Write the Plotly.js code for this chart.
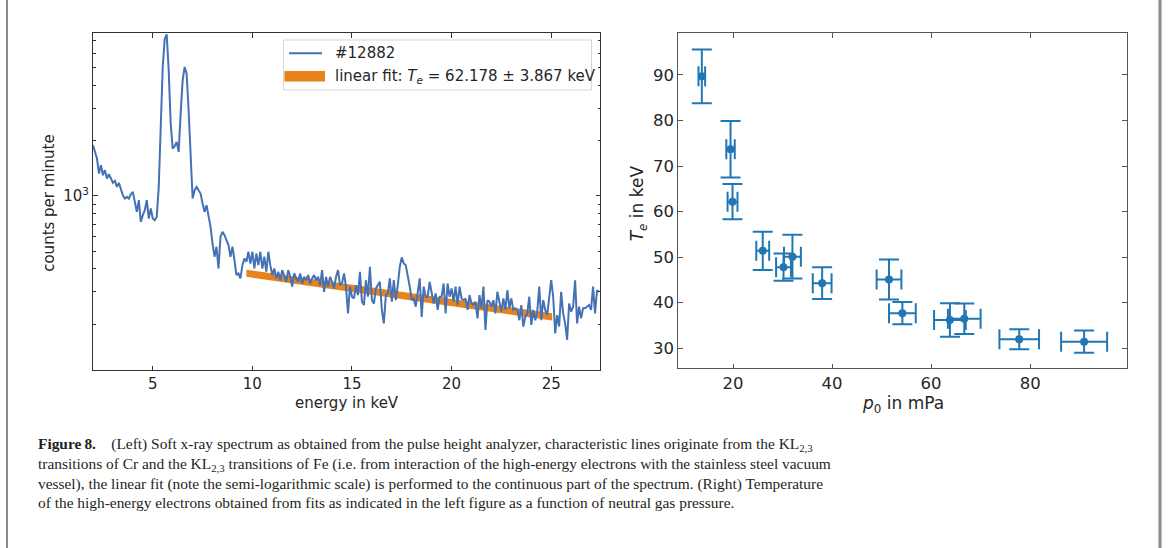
<!DOCTYPE html>
<html><head><meta charset="utf-8">
<script src="https://cdn.plot.ly/plotly-3.0.1.min.js"></script>
<style>html,body{margin:0;padding:0;background:#fff;} #chart{width:1174px;height:548px;}</style>
</head><body><div id="chart"></div>
<script>
// ---------- data: left panel (spectrum) ----------
const energyStart = 2.0;   // keV, first channel
const energyStep = 0.1;    // keV per channel
const countsPerMinute = [
  1887,1736,1597,1323,1469,1296,1380,1243,1312,1243,
  1177,1207,1119,1177,1083,1008,967,987,967,1021,
  1051,928,818,947,722,785,836,947,753,853,
  753,737,769,1119,2278,5039,7189,7590,4833,2476,
  1810,1864,1968,1736,2807,4263,5039,4636,2927,1564,
  967,1074,1119,1074,1030,908,818,890,785,678,
  550,466,528,402,598,637,611,574,539,466,
  528,446,370,378,355,419,456,437,496,428,
  496,402,485,419,496,402,466,386,496,419,
  370,402,355,386,347,394,362,340,394,362,
  320,378,355,340,378,333,362,347,370,333,
  355,370,347,362,326,394,300,362,320,362,
  340,313,362,394,326,333,378,320,229,320,
  282,276,326,288,386,265,254,347,282,411,
  270,259,313,326,340,239,202,288,294,355,
  265,347,270,326,411,462,428,419,370,320,
  270,276,249,294,355,219,320,282,282,340,
  288,259,294,239,282,282,333,229,333,282,
  313,265,320,254,320,276,270,276,239,288,
  259,254,265,215,288,244,320,186,270,265,
  249,270,229,300,265,234,276,239,306,244,
  276,239,244,239,210,254,194,219,229,282,
  198,239,210,234,320,210,270,239,224,270,
  347,282,178,224,194,300,229,202,164,259,
  234,249,347,202,249,215,244,244,249,254,
  239,320,229,306,300
];
const fitEnergy = [9.7, 25.05];
const fitUpper = [396, 229];
const fitLower = [362, 209];
const spectrumLabel = '#12882';
const fitLabel = 'linear fit: <i>T<sub>e</sub></i> = 62.178 ± 3.867 keV';
const energyTicks = [5, 10, 15, 20, 25];
const countMajorTicks = [1000];
const countMajorLabels = ['10<sup>3</sup>'];
const countMinorTicks = [200, 300, 400, 500, 600, 700, 800, 900, 2000, 3000, 4000, 5000, 6000, 7000];

// ---------- data: right panel ----------
const pressure     = [13.7, 19.5, 19.9, 26.0, 30.2, 32.0, 38.0, 51.5, 54.2, 63.8, 66.7, 77.8, 90.9];
const pressureErr  = [0.67, 0.85, 1.0, 1.3, 1.5, 1.7, 1.9, 2.5, 2.7, 3.2, 3.3, 4.0, 4.65];
const temperature  = [89.7, 73.7, 62.178, 51.4, 47.8, 50.1, 44.3, 45.1, 37.7, 36.2, 36.5, 32.0, 31.45];
const temperatureErr = [5.9, 6.2, 3.867, 4.2, 3.0, 4.8, 3.5, 4.4, 2.45, 3.7, 3.35, 2.2, 2.45];
const pressureTicks = [20, 40, 60, 80];
const temperatureTicks = [30, 40, 50, 60, 70, 80, 90];

const captionLines = [
  '<b>Figure\u20098.</b>\u2003(Left) Soft x-ray spectrum as obtained from the pulse height analyzer, characteristic lines originate from the KL<sub>2,3</sub>',
  'transitions of Cr and the KL<sub>2,3</sub> transitions of Fe (i.e. from interaction of the high-energy electrons with the stainless steel vacuum',
  'vessel), the linear fit (note the semi-logarithmic scale) is performed to the continuous part of the spectrum. (Right) Temperature',
  'of the high-energy electrons obtained from fits as indicated in the left figure as a function of neutral gas pressure.'
];

// ---------- build ----------
const energy = countsPerMinute.map((_, i) => +(energyStart + i * energyStep).toFixed(2));
const W = 1174, H = 548;
const px = x => x / W;
const py = y => 1 - y / H;

const BLUE_L = '#4472b4';
const ORANGE = '#e8821c';
const BLUE_R = '#1f77b4';
const SANS = 'DejaVu Sans';
const TXT = '#262626';

const traces = [
  {x: fitEnergy, y: fitLower, xaxis: 'x', yaxis: 'y', mode: 'lines', line: {width: 0, color: ORANGE}, hoverinfo: 'skip', showlegend: false},
  {x: fitEnergy, y: fitUpper, xaxis: 'x', yaxis: 'y', mode: 'lines', fill: 'tonexty', fillcolor: ORANGE, line: {width: 0, color: ORANGE}, name: fitLabel, showlegend: false},
  {x: energy, y: countsPerMinute, xaxis: 'x', yaxis: 'y', mode: 'lines', line: {color: BLUE_L, width: 2}, name: spectrumLabel, showlegend: false},
  {x: pressure, y: temperature, xaxis: 'x2', yaxis: 'y2', mode: 'markers',
   marker: {color: BLUE_R, size: 8},
   error_x: {type: 'data', array: pressureErr, visible: true, color: BLUE_R, thickness: 2, width: 10},
   error_y: {type: 'data', array: temperatureErr, visible: true, color: BLUE_R, thickness: 2, width: 10},
   showlegend: false}
];

const axBase = (col, fs) => ({
  showgrid: false, zeroline: false, showline: true, linecolor: col, linewidth: 1,
  mirror: 'allticks', ticks: 'inside', ticklen: 4.5, tickwidth: 1, tickcolor: col,
  tickfont: {family: SANS, size: fs, color: TXT}, automargin: false, fixedrange: true
});

const layout = {
  width: W, height: H, autosize: false,
  margin: {l: 0, r: 0, t: 0, b: 0},
  paper_bgcolor: '#fff', plot_bgcolor: '#fff',
  showlegend: false,
  xaxis: Object.assign(axBase('#333', 15), {domain: [px(93), px(600)], range: [2.0, 27.45], tickmode: 'array', tickvals: energyTicks, anchor: 'y'}),
  yaxis: Object.assign(axBase('#333', 15), {domain: [py(370), py(33.3)], type: 'log', range: [2.051, 3.886],
    tickmode: 'array', tickvals: countMajorTicks, ticktext: countMajorLabels, anchor: 'x',
    minor: {tickmode: 'array', tickvals: countMinorTicks, ticks: 'inside', ticklen: 2.5, tickcolor: '#333', tickwidth: 1, showgrid: false}}),
  xaxis2: Object.assign(axBase('#555', 16.5), {domain: [px(678.3), px(1126.7)], range: [8.95, 99.5], tickmode: 'array', tickvals: pressureTicks, anchor: 'y2'}),
  yaxis2: Object.assign(axBase('#555', 16.5), {domain: [py(368.3), py(33.3)], range: [25.6, 99.15], tickmode: 'array', tickvals: temperatureTicks, anchor: 'x2'}),
  shapes: [
    // outer figure frame (left / right rules)
    {type: 'line', xref: 'paper', yref: 'paper', x0: px(7), x1: px(7), y0: 0, y1: 1, line: {color: '#8a8a8a', width: 2}},
    {type: 'line', xref: 'paper', yref: 'paper', x0: px(1160), x1: px(1160), y0: 0, y1: 1, line: {color: '#8a8a8a', width: 3}},
    // legend box
    {type: 'rect', xref: 'paper', yref: 'paper', x0: px(283.5), x1: px(591.5), y0: py(90), y1: py(40), line: {color: '#d5d5d5', width: 1}, fillcolor: 'rgba(255,255,255,0.85)'},
    {type: 'line', xref: 'paper', yref: 'paper', x0: px(289), x1: px(322), y0: py(53.3), y1: py(53.3), line: {color: BLUE_L, width: 2}},
    {type: 'rect', xref: 'paper', yref: 'paper', x0: px(284.5), x1: px(325), y0: py(81.5), y1: py(71), line: {width: 0}, fillcolor: ORANGE}
  ],
  annotations: [
    {text: spectrumLabel, xref: 'paper', yref: 'paper', x: px(333), y: py(53.3), xanchor: 'left', yanchor: 'middle', showarrow: false, font: {family: SANS, size: 15, color: TXT}},
    {text: fitLabel, xref: 'paper', yref: 'paper', x: px(333), y: py(76.5), xanchor: 'left', yanchor: 'middle', showarrow: false, font: {family: SANS, size: 15, color: TXT}},
    {text: 'counts per minute', xref: 'paper', yref: 'paper', x: px(48.3), y: py(202.5), textangle: -90, xanchor: 'center', yanchor: 'middle', showarrow: false, font: {family: SANS, size: 15, color: TXT}},
    {text: 'energy in keV', xref: 'paper', yref: 'paper', x: px(346.5), y: py(403), xanchor: 'center', yanchor: 'middle', showarrow: false, font: {family: SANS, size: 15, color: TXT}},
    {text: '<i>T<sub>e</sub></i> in keV', xref: 'paper', yref: 'paper', x: px(638.3), y: py(203), textangle: -90, xanchor: 'center', yanchor: 'middle', showarrow: false, font: {family: SANS, size: 17, color: TXT}},
    {text: '<i>p</i><sub>0</sub> in mPa', xref: 'paper', yref: 'paper', x: px(902.5), y: py(404), xanchor: 'center', yanchor: 'middle', showarrow: false, font: {family: SANS, size: 17, color: TXT}}
  ]
};

const captionY = [444, 464, 483.5, 502];
captionLines.forEach((t, i) => {
  layout.annotations.push({text: t, xref: 'paper', yref: 'paper', x: px(36), y: py(captionY[i]), xanchor: 'left', yanchor: 'middle', showarrow: false,
    font: {family: 'Liberation Serif', size: 15.4, color: '#231f20'}});
});

Plotly.newPlot('chart', traces, layout, {displayModeBar: false, staticPlot: true});
</script>
</body></html>
